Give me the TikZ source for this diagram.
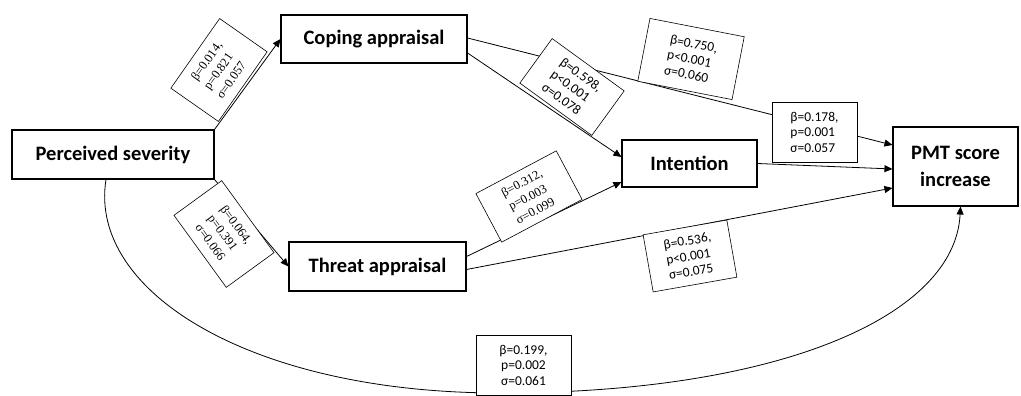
\documentclass[tikz,border=0pt]{standalone}
\usepackage{fontspec}
\setmainfont{Carlito}
\newfontfamily\coefserif{Liberation Serif}
\usetikzlibrary{positioning, arrows.meta}

\begin{document}
\begin{tikzpicture}[
		x=1pt, y=1pt,
		font=\fontsize{20.5}{27}\selectfont\bfseries,
		>={Triangle[length=8pt,width=7pt]},
		var/.style={draw, line width=1.1pt, fill=white, align=center, inner sep=2pt},
		coef/.style={draw, line width=0.6pt, fill=white, align=left, inner sep=0pt, font=\fontsize{13.5}{15.5}\selectfont\mdseries},
		coefrm/.style={coef, font=\coefserif\fontsize{12.5}{15.5}\selectfont\mdseries},
		path/.style={->, line width=0.8pt}
	]
	\useasboundingbox (0,0) rectangle (1021,396);

	% Variables del modelo
	\node[var, minimum width=202pt, minimum height=49pt] (sev) at (113,241.5) {Perceived severity};
	\node[var, minimum width=186pt, minimum height=48pt] (cop) at (374,357) {Coping appraisal};
	\node[var, minimum width=177pt, minimum height=49pt] (thr) at (377.5,129.5) {Threat appraisal};
	\node[var, minimum width=135pt, minimum height=47pt] (int) at (689.5,232.5) {Intention};
	\node[var, minimum width=125pt, minimum height=79pt] (pmt) at (955.5,229.5) {PMT score\\increase};

	% Caminos
	\draw[path] (sev.north east) -- (cop.west);
	\draw[path] (sev.south east) -- (thr.west);
	\draw[path] ([yshift=-14pt]cop.east) -- ([yshift=6.5pt]int.west);
	\draw[path] ([yshift=1pt]cop.east) -- ([yshift=21.5pt]pmt.west);
	\draw[path] ([yshift=10pt]thr.east) -- ([yshift=-18.5pt]int.west);
	\draw[path] ([yshift=-3pt]thr.east) -- ([yshift=-21.5pt]pmt.west);
	\draw[path] (int.east) -- ([yshift=-2.5pt]pmt.west);
	\draw[path] ([xshift=-7pt]sev.south) .. controls (88,105) and (250,3) .. (500,3)
		.. controls (780,3) and (955,80) .. ([xshift=5pt]pmt.south);

	% Coeficientes
	\node[coefrm, rotate=55, minimum width=85pt, minimum height=58pt] (csc) at (219,326) {β=0.014,\\p=0.821\\σ=0.057};
	\node[coefrm, rotate=-54, minimum width=89pt, minimum height=59pt] (cst) at (224,162) {β=0.064,\\p=0.391\\σ=0.066};
	\node[coef, rotate=-36, minimum width=89pt, minimum height=55pt] (cci) at (572,309) {β=0.598,\\p<0.001\\σ=0.078};
	\node[coef, rotate=-11, minimum width=96pt, minimum height=64pt] (ccp) at (691,337) {β=0.750,\\p<0.001\\σ=0.060};
	\node[coef, minimum width=85pt, minimum height=60pt] (cip) at (814.5,264) {β=0.178,\\p=0.001\\σ=0.057};
	\node[coefrm, rotate=28, minimum width=91pt, minimum height=55pt] (cti) at (529,199.5) {β=0.312,\\p=0.003\\σ=0.099};
	\node[coef, rotate=10, minimum width=85pt, minimum height=58pt] (ctp) at (690,140) {β=0.536,\\p<0.001\\σ=0.075};
	\node[coef, align=center, minimum width=95pt, minimum height=60pt] (csp) at (523.5,31) {β=0.199,\\p=0.002\\σ=0.061};

\end{tikzpicture}
\end{document}
